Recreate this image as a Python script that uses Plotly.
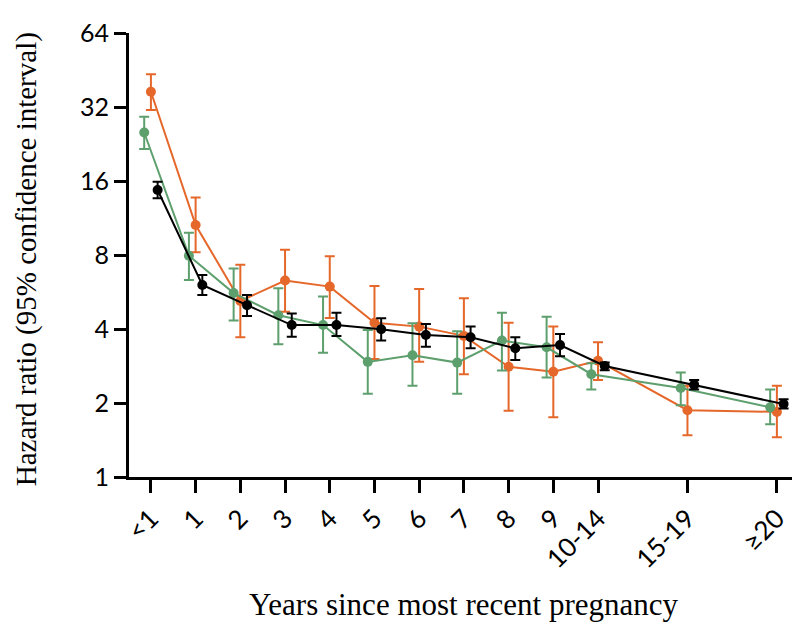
import plotly.graph_objects as go

# categories and their positions on the x axis
categories = ["<1", "1", "2", "3", "4", "5", "6", "7", "8", "9", "10-14", "15-19", "≥20"]
x_pos = [0, 1, 2, 3, 4, 5, 6, 7, 8, 9, 10, 12, 14]

# orange series
orange_hr = [36.9, 10.6, 5.2, 6.3, 5.95, 4.24, 4.09, 3.75, 2.81, 2.68, 2.97, 1.87, 1.84]
orange_lo = [31.1, 8.2, 3.7, 4.7, 4.43, 3.02, 2.94, 2.62, 1.86, 1.75, 2.48, 1.48, 1.45]
orange_hi = [43.5, 13.7, 7.3, 8.4, 7.9, 5.98, 5.82, 5.33, 4.24, 4.09, 3.53, 2.35, 2.35]

# green series
green_hr = [25.2, 7.95, 5.6, 4.55, 4.15, 2.94, 3.13, 2.92, 3.59, 3.37, 2.62, 2.3, 1.92]
green_lo = [21.6, 6.33, 4.33, 3.47, 3.2, 2.18, 2.35, 2.18, 2.71, 2.54, 2.27, 1.96, 1.64]
green_hi = [29.2, 9.86, 7.05, 5.86, 5.42, 3.96, 4.22, 3.92, 4.66, 4.49, 2.9, 2.66, 2.27]

# black series
black_hr = [14.7, 6.04, 5.0, 4.15, 4.15, 3.99, 3.78, 3.7, 3.34, 3.44, 2.83, 2.37, 1.98]
black_lo = [13.6, 5.5, 4.52, 3.72, 3.75, 3.59, 3.39, 3.34, 2.99, 3.1, 2.72, 2.27, 1.9]
black_hi = [15.9, 6.63, 5.5, 4.63, 4.66, 4.42, 4.19, 4.09, 3.7, 3.82, 2.92, 2.48, 2.07]

y_ticks = [1, 2, 4, 8, 16, 32, 64]


def series(hr, lo, hi, color, shift):
    return go.Scatter(
        x=[p + shift for p in x_pos],
        y=hr,
        mode="lines+markers",
        line=dict(color=color, width=2),
        marker=dict(color=color, size=10),
        error_y=dict(
            type="data",
            symmetric=False,
            array=[h - v for h, v in zip(hi, hr)],
            arrayminus=[v - l for v, l in zip(hr, lo)],
            color=color,
            thickness=2,
            width=5,
        ),
        showlegend=False,
        hoverinfo="x+y",
    )


fig = go.Figure()
fig.add_trace(series(orange_hr, orange_lo, orange_hi, "#E5672A", 0.0))
fig.add_trace(series(green_hr, green_lo, green_hi, "#5E9F6E", -0.15))
fig.add_trace(series(black_hr, black_lo, black_hi, "#000000", 0.15))

# page body has an 8px margin, so the figure is a bit smaller than the window
fig.update_layout(
    width=792,
    height=620,
    margin=dict(l=121, r=3, t=25, b=151, autoexpand=False),
    plot_bgcolor="white",
    paper_bgcolor="white",
    font=dict(family="Lato", color="black"),
    annotations=[
        dict(
            text="Hazard ratio (95% confidence interval)",
            xref="paper", yref="paper",
            x=-0.153, y=0.49,
            xanchor="center", yanchor="middle",
            textangle=-90, showarrow=False,
            font=dict(family="Liberation Serif", size=29, color="black"),
        ),
        dict(
            text="Years since most recent pregnancy",
            xref="paper", yref="paper",
            x=0.5, y=-0.288,
            xanchor="center", yanchor="middle",
            showarrow=False,
            font=dict(family="Liberation Serif", size=31, color="black"),
        ),
    ],
)

fig.update_xaxes(
    range=[-0.49, 14.45],
    tickvals=x_pos,
    ticktext=categories,
    tickangle=-45,
    tickfont=dict(family="Lato", size=26, color="black"),
    showline=True, linewidth=3, linecolor="black",
    ticks="outside", ticklen=13, tickwidth=3, tickcolor="black",
    showgrid=False, zeroline=False, automargin=False,
)

fig.update_yaxes(
    type="log",
    range=[0, 1.80618],
    tickvals=y_ticks,
    ticktext=[str(v) for v in y_ticks],
    tickfont=dict(family="Lato", size=25, color="black"),
    showline=True, linewidth=3, linecolor="black",
    ticks="outside", ticklen=12, tickwidth=3, tickcolor="black",
    showgrid=False, zeroline=False, automargin=False,
)

fig.write_html("out.html")
